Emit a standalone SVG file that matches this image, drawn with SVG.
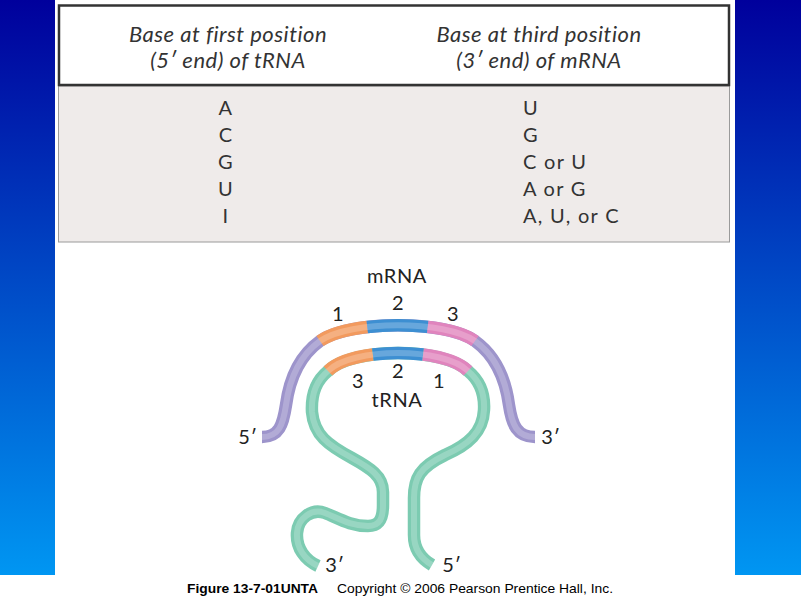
<svg xmlns="http://www.w3.org/2000/svg" width="801" height="600" viewBox="0 0 801 600">
<defs>
<linearGradient id="bg" x1="0" y1="0" x2="0" y2="575" gradientUnits="userSpaceOnUse">
<stop offset="0" stop-color="#00009c"/>
<stop offset="1" stop-color="#0096f2"/>
</linearGradient>
<style>
.hd{font-family:Lato,"Open Sans","Liberation Sans",sans-serif;font-style:italic;font-size:22px;letter-spacing:0.5px;fill:#333;text-anchor:middle}
.bd{font-family:Lato,"Open Sans","Liberation Sans",sans-serif;font-size:20px;letter-spacing:1.3px;fill:#333}
.lb{font-family:Lato,"Open Sans","DejaVu Sans",sans-serif;font-size:20px;letter-spacing:0.6px;fill:#222;text-anchor:middle}
.ft{font-family:"Liberation Sans",Arial,sans-serif;font-size:13px;fill:#000}
.s{fill:none;stroke-width:12.5;stroke-linecap:butt;stroke-linejoin:round}
.h{fill:none;stroke-width:6;stroke-linecap:butt;stroke-linejoin:round;stroke-opacity:0.22}
</style>
</defs>
<rect x="0" y="0" width="801" height="600" fill="#fff"/>
<rect x="0" y="0" width="55" height="575" fill="url(#bg)"/>
<rect x="735" y="0" width="66" height="575" fill="url(#bg)"/>

<g id="table">
<rect x="58.5" y="86" width="671" height="156" fill="#efebea" stroke="#9a9a9a" stroke-width="1"/>
<rect x="59" y="5.5" width="670" height="79.5" fill="#fff" stroke="#333" stroke-width="2.5"/>
<text class="hd" x="228" y="42">Base at first position</text>
<text class="hd" x="228" y="68">(5′ end) of tRNA</text>
<text class="hd" x="539" y="42">Base at third position</text>
<text class="hd" x="539" y="68">(3′ end) of mRNA</text>
<g class="bd" text-anchor="middle">
<text x="226" y="115">A</text>
<text x="226" y="142">C</text>
<text x="226" y="169">G</text>
<text x="226" y="196">U</text>
<text x="226" y="223">I</text>
</g>
<g class="bd">
<text x="523" y="115">U</text>
<text x="523" y="142">G</text>
<text x="523" y="169">C or U</text>
<text x="523" y="196">A or G</text>
<text x="523" y="223">A, U, or C</text>
</g>
</g>

<g id="mRNA">
<path class="s" stroke="#9d94cb" d="M 262 437 C 279 437, 283 425, 286 405 C 290 375, 302 354, 320 341 C 350 320 446 320 475 341 C 493 354, 505 375, 509 405 C 512 425, 517 437, 535 437"/>
<path class="s" stroke="#f29a5e" pathLength="100" stroke-dasharray="31.2 200" d="M 320 341 C 350 320 446 320 475 341"/>
<path class="s" stroke="#3d8fd2" pathLength="100" stroke-dasharray="0 31.2 37.6 200" d="M 320 341 C 350 320 446 320 475 341"/>
<path class="s" stroke="#e084bd" pathLength="100" stroke-dasharray="0 68.8 31.2 200" d="M 320 341 C 350 320 446 320 475 341"/>
<path class="h" stroke="#fff" d="M 262 437 C 279 437, 283 425, 286 405 C 290 375, 302 354, 320 341 C 350 320 446 320 475 341 C 493 354, 505 375, 509 405 C 512 425, 517 437, 535 437"/>
</g>

<g id="tRNA">
<path class="s" stroke="#7ccbb1" d="M 318 566 C 305 560, 296 548, 297 533 C 298 518, 312 508, 325 513 C 338 518, 350 526, 368 526 C 380 526, 383 518, 383 505 L 383 492 C 383 476, 370 468, 352 458 C 328 445, 314 435, 312 412 C 311 392, 317 380, 328 371 C 352 347, 444 347, 468 371 C 479 380, 485 392, 484 410 C 483 432, 468 445, 445 455 C 420 467, 414 478, 414 498 L 414 535 C 414 548, 420 558, 432 565"/>
<path class="s" stroke="#f29a5e" pathLength="100" stroke-dasharray="33 200" d="M 328 371 C 352 347, 444 347, 468 371"/>
<path class="s" stroke="#3d8fd2" pathLength="100" stroke-dasharray="0 33 34 200" d="M 328 371 C 352 347, 444 347, 468 371"/>
<path class="s" stroke="#e084bd" pathLength="100" stroke-dasharray="0 67 33 200" d="M 328 371 C 352 347, 444 347, 468 371"/>
<path class="h" stroke="#fff" d="M 318 566 C 305 560, 296 548, 297 533 C 298 518, 312 508, 325 513 C 338 518, 350 526, 368 526 C 380 526, 383 518, 383 505 L 383 492 C 383 476, 370 468, 352 458 C 328 445, 314 435, 312 412 C 311 392, 317 380, 328 371 C 352 347, 444 347, 468 371 C 479 380, 485 392, 484 410 C 483 432, 468 445, 445 455 C 420 467, 414 478, 414 498 L 414 535 C 414 548, 420 558, 432 565"/>
</g>

<g id="labels">
<text class="lb" x="397" y="283">mRNA</text>
<text class="lb" x="338" y="321">1</text>
<text class="lb" x="398" y="310">2</text>
<text class="lb" x="453" y="321">3</text>
<text class="lb" x="358" y="388">3</text>
<text class="lb" x="398" y="378">2</text>
<text class="lb" x="439" y="388">1</text>
<text class="lb" x="397" y="407">tRNA</text>
<text class="lb" x="248" y="444">5′</text>
<text class="lb" x="551" y="444">3′</text>
<text class="lb" x="335" y="572">3′</text>
<text class="lb" x="452" y="572">5′</text>
</g>

<g id="caption">
<text class="ft" x="187" y="593" font-weight="bold" textLength="131" lengthAdjust="spacingAndGlyphs">Figure 13-7-01UNTA</text>
<text class="ft" x="337" y="593" textLength="276" lengthAdjust="spacingAndGlyphs">Copyright © 2006 Pearson Prentice Hall, Inc.</text>
</g>
</svg>
